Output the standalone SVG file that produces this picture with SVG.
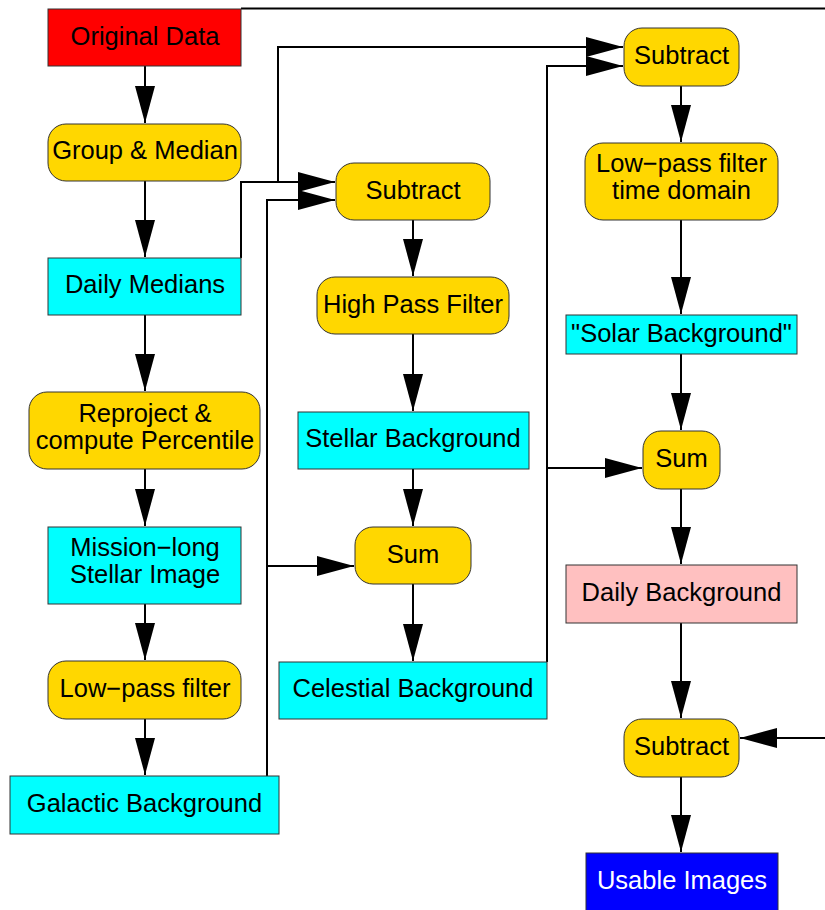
<svg xmlns="http://www.w3.org/2000/svg" width="825" height="910" viewBox="0 0 825 910">
<style>
.n{stroke:#333;stroke-width:1}
.red{fill:#FF0000}.gold{fill:#FFD700}.cyan{fill:#00FFFF}.pink{fill:#FFC0C0}.blue{fill:#0000FF}
text{font-family:"Liberation Sans",Arial,sans-serif;font-size:25.5px;text-anchor:middle;fill:#000}
text.w{fill:#fff}
.c{fill:none;stroke:#000;stroke-width:2}
</style>
<defs>
<marker id="ah" markerUnits="userSpaceOnUse" markerWidth="38" markerHeight="20" refX="37" refY="10" orient="auto">
<path d="M0,0 L37,10 L0,20 z" fill="#000"/>
</marker>
</defs>
<rect width="825" height="910" fill="#fff"/>
<g id="connectors">
<path class="c" d="M241,8.5 H830 V738 H740" marker-end="url(#ah)"/>
<path class="c" d="M145,66 V123" marker-end="url(#ah)"/>
<path class="c" d="M145,181 V257" marker-end="url(#ah)"/>
<path class="c" d="M145,315 V391" marker-end="url(#ah)"/>
<path class="c" d="M145,469 V526" marker-end="url(#ah)"/>
<path class="c" d="M145,604 V660" marker-end="url(#ah)"/>
<path class="c" d="M145,719 V775" marker-end="url(#ah)"/>
<path class="c" d="M241,258 V182 H335" marker-end="url(#ah)"/>
<path class="c" d="M278,182 V47 H623" marker-end="url(#ah)"/>
<path class="c" d="M267,776 V200 H335" marker-end="url(#ah)"/>
<path class="c" d="M267,566 H354" marker-end="url(#ah)"/>
<path class="c" d="M413,220 V276" marker-end="url(#ah)"/>
<path class="c" d="M413,334 V411" marker-end="url(#ah)"/>
<path class="c" d="M413,469 V526" marker-end="url(#ah)"/>
<path class="c" d="M413,584 V661" marker-end="url(#ah)"/>
<path class="c" d="M547,662 V66 H623" marker-end="url(#ah)"/>
<path class="c" d="M547,468 H642" marker-end="url(#ah)"/>
<path class="c" d="M681,86 V142" marker-end="url(#ah)"/>
<path class="c" d="M681,220 V314" marker-end="url(#ah)"/>
<path class="c" d="M681,354 V430" marker-end="url(#ah)"/>
<path class="c" d="M681,489 V564" marker-end="url(#ah)"/>
<path class="c" d="M681,623 V718" marker-end="url(#ah)"/>
<path class="c" d="M681,777 V852" marker-end="url(#ah)"/>
</g>
<g id="original-data"><rect class="n red" x="48" y="9" width="193" height="57"/><text x="145" y="45">Original Data</text></g>
<g id="group-median"><rect class="n gold" x="48" y="124" width="193" height="57" rx="18"/><text x="145" y="159">Group &amp; Median</text></g>
<g id="daily-medians"><rect class="n cyan" x="48" y="258" width="193" height="57"/><text x="145" y="293">Daily Medians</text></g>
<g id="reproject"><rect class="n gold" x="29" y="392" width="231" height="77" rx="18"/><text x="145" y="422">Reproject &amp;</text><text x="145" y="448.5">compute Percentile</text></g>
<g id="mission-long"><rect class="n cyan" x="48" y="527" width="193" height="77"/><text x="145" y="556">Mission−long</text><text x="145" y="583">Stellar Image</text></g>
<g id="low-pass"><rect class="n gold" x="48" y="661" width="193" height="58" rx="18"/><text x="145" y="697">Low−pass filter</text></g>
<g id="galactic"><rect class="n cyan" x="10" y="776" width="269" height="58"/><text x="144.5" y="812">Galactic Background</text></g>
<g id="subtract-1"><rect class="n gold" x="336" y="163" width="154" height="57" rx="18"/><text x="413" y="199">Subtract</text></g>
<g id="high-pass"><rect class="n gold" x="317" y="277" width="192" height="57" rx="18"/><text x="413" y="313">High Pass Filter</text></g>
<g id="stellar"><rect class="n cyan" x="298" y="412" width="231" height="57"/><text x="413" y="447">Stellar Background</text></g>
<g id="sum-1"><rect class="n gold" x="355" y="527" width="116" height="57" rx="18"/><text x="413" y="563">Sum</text></g>
<g id="celestial"><rect class="n cyan" x="279" y="662" width="268" height="57"/><text x="413" y="697">Celestial Background</text></g>
<g id="subtract-2"><rect class="n gold" x="624" y="28" width="115" height="58" rx="18"/><text x="681.5" y="64">Subtract</text></g>
<g id="low-pass-time"><rect class="n gold" x="585" y="143" width="193" height="77" rx="18"/><text x="681.5" y="172">Low−pass filter</text><text x="681.5" y="198.5">time domain</text></g>
<g id="solar"><rect class="n cyan" x="566" y="315" width="231" height="39"/><text x="681.5" y="342">"Solar Background"</text></g>
<g id="sum-2"><rect class="n gold" x="643" y="431" width="77" height="58" rx="18"/><text x="681.5" y="467">Sum</text></g>
<g id="daily-background"><rect class="n pink" x="566" y="565" width="231" height="58"/><text x="681.5" y="601">Daily Background</text></g>
<g id="subtract-3"><rect class="n gold" x="624" y="719" width="115" height="58" rx="18"/><text x="681.5" y="755">Subtract</text></g>
<g id="usable"><rect class="n blue" x="586" y="853" width="192" height="60"/><text class="w" x="682" y="889">Usable Images</text></g>
</svg>
